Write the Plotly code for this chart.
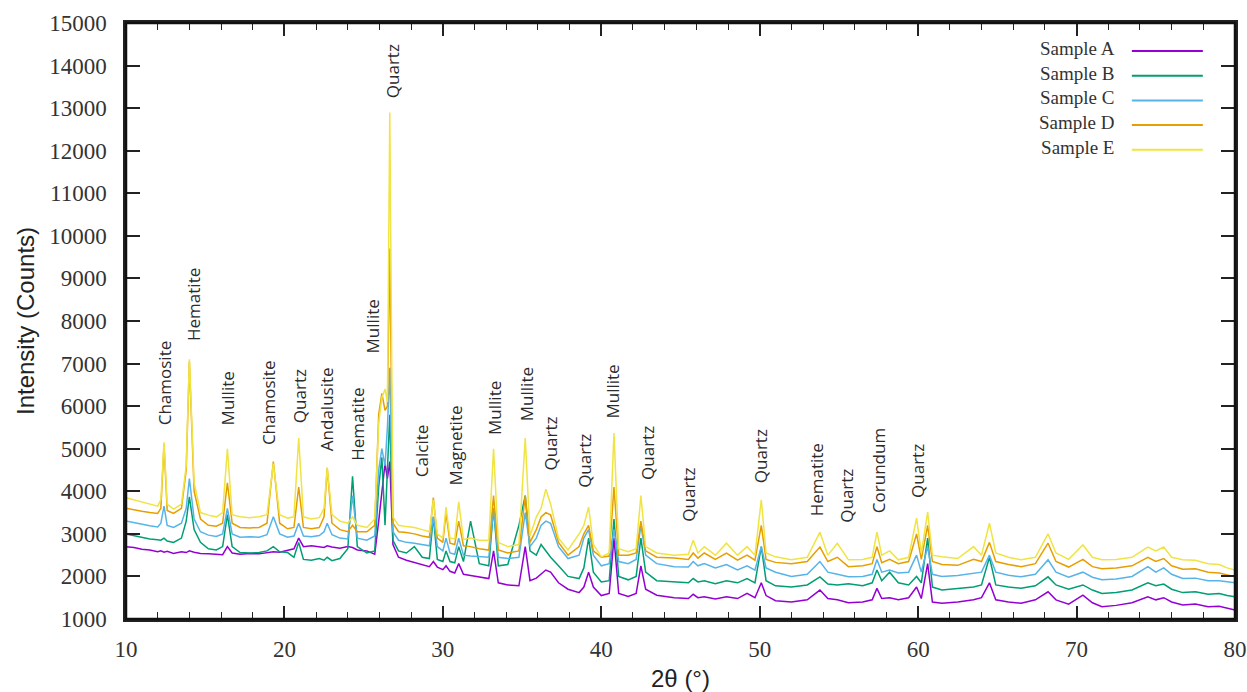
import plotly.graph_objects as go

# 2-theta grid (degrees)
two_theta = [
    10, 10.5, 11, 11.5, 12, 12.2, 12.4, 12.6, 13, 13.5, 13.8, 14.0, 14.3, 14.7, 15.2, 15.7, 16.1, 16.4, 16.7,
    17.2, 17.8, 18.4, 18.9, 19.3, 19.7, 20.2, 20.6, 20.9, 21.2, 21.7, 22.2, 22.5, 22.7, 23.0, 23.5, 24.0, 24.3, 24.6,
    25.2, 25.7, 25.95, 26.15, 26.35, 26.5, 26.65, 26.85, 27.2, 27.7, 28.2, 28.7, 29.15, 29.4, 29.65, 30.0, 30.2, 30.45, 30.75,
    31.0, 31.3, 31.75, 32.3, 32.9, 33.2, 33.5, 34.1, 34.8, 35.2, 35.5, 35.9, 36.2, 36.5, 36.8, 37.3, 37.9, 38.6, 38.9,
    39.2, 39.5, 40.0, 40.5, 40.8, 41.1, 41.7, 42.2, 42.5, 42.8, 43.5, 44.6, 45.5, 45.8, 46.1, 46.5, 47.2, 47.9, 48.6,
    49.2, 49.7, 50.1, 50.4, 51.0, 52.0, 53.0, 53.8, 54.3, 54.9, 55.6, 56.5, 57.1, 57.4, 57.7, 58.2, 58.75, 59.4, 59.9,
    60.2, 60.6, 60.9, 61.5, 62.5, 63.5, 64.0, 64.5, 64.9, 65.7, 66.5, 67.4, 68.2, 68.7, 69.5, 70.4, 71.0, 71.6, 72.5,
    73.5, 74.5, 75.0, 75.5, 76.0, 76.7, 77.5, 78.3, 79.0, 79.5, 80,
]

sample_a = [
    2700, 2680, 2640, 2620, 2580, 2600, 2570, 2590, 2540, 2580, 2560, 2600, 2570, 2540, 2530, 2520, 2510, 2700, 2550,
    2520, 2540, 2530, 2560, 2580, 2570, 2620, 2650, 2900, 2700, 2720, 2700, 2680, 2720, 2690, 2660, 2700, 2680, 2620,
    2600, 2520, 3300, 4000, 4650, 4300, 4700, 2750, 2450, 2380, 2330, 2280, 2230, 2350, 2220, 2160, 2250, 2120, 2080,
    2300, 2050, 2020, 1990, 1950, 2600, 1850, 1800, 1780, 2700, 1900, 1960, 2050, 2150, 2100, 1850, 1700, 1620, 1750,
    2100, 1750, 1550, 1600, 2900, 1600, 1530, 1600, 2250, 1700, 1560, 1500, 1480, 1580, 1500, 1520, 1470, 1520, 1480,
    1600, 1500, 1850, 1550, 1430, 1400, 1450, 1680, 1480, 1450, 1380, 1400, 1450, 1720, 1480, 1500, 1450, 1500, 1750,
    1480, 2300, 1400, 1370, 1400, 1450, 1500, 1850, 1450, 1400, 1370, 1450, 1640, 1450, 1350, 1560, 1380, 1290, 1320,
    1380, 1520, 1450, 1500, 1400, 1330, 1350, 1290, 1300, 1250, 1210,
]

sample_b = [
    3000, 2960, 2930, 2880, 2860, 2850, 2900, 2830, 2800, 2900, 3300, 3870, 3100, 2800, 2650, 2620, 2700, 3450, 2700,
    2560, 2550, 2560, 2600, 2700, 2580, 2560, 2450, 2800, 2400, 2380, 2420, 2380, 2450, 2370, 2420, 2650, 4350, 2700,
    2550, 2600, 4100, 4800, 3200, 4500, 5800, 2850, 2600, 2550, 2700, 2450, 2420, 3400, 2400, 2350, 2600, 2350, 2320,
    2700, 2350, 3300, 2300, 2250, 3600, 2250, 2280, 3200, 3900, 2600, 2500, 2750, 2600, 2450, 2250, 2000, 1950, 2200,
    2900, 2100, 1870, 1900, 3350, 2000, 1920, 2000, 2900, 2100, 1900, 1870, 1850, 1950, 1870, 1900, 1830, 1900, 1850,
    1950, 1850, 2700, 1900, 1780, 1750, 1800, 1990, 1820, 1800, 1830, 1780, 1850, 2150, 1900, 2100, 1850, 1800, 2000,
    1850, 2900, 1750, 1680, 1720, 1750, 1800, 2450, 1800, 1750, 1720, 1780, 1990, 1800, 1700, 1800, 1680, 1600, 1620,
    1680, 1850, 1780, 1820, 1700, 1620, 1640, 1580, 1600, 1550, 1520,
]

sample_c = [
    3300, 3260, 3220, 3190, 3160, 3250, 3650, 3200, 3150, 3250, 3600, 4300, 3350, 3050, 2970, 2940, 3000, 3600, 3000,
    2920, 2930, 2920, 2980, 3400, 3000, 2920, 2950, 3250, 2950, 2930, 2960, 3050, 3250, 2980, 2900, 2880, 3900, 2900,
    2850, 2950, 4500, 5000, 4600, 5500, 6900, 3050, 2850, 2800, 2780, 2750, 2720, 3400, 2700, 2600, 2900, 2550, 2520,
    2900, 2500, 2480, 2460, 2450, 3600, 2450, 2420, 2450, 3500, 2700, 2900, 3200, 3300, 3250, 2700, 2420, 2500, 2900,
    3100, 2500, 2250, 2300, 3100, 2350, 2300, 2400, 3200, 2500, 2300, 2230, 2220, 2350, 2250, 2300, 2200, 2280, 2150,
    2250, 2150, 2700, 2200, 2100, 2000, 2050, 2350, 2100, 2050, 1990, 2000, 2050, 2400, 2100, 2150, 2080, 2100, 2500,
    2100, 2700, 2050, 2000, 2020, 2080, 2100, 2500, 2100, 2030, 1990, 2050, 2390, 2100, 1980, 2100, 1980, 1920, 1940,
    2000, 2230, 2100, 2200, 2050, 1950, 1960, 1900, 1900, 1870, 1850,
]

sample_d = [
    3600, 3560, 3530, 3500, 3480, 3600, 5100, 3550, 3480, 3600, 4500, 7050, 4000, 3350, 3200, 3180, 3250, 4200, 3250,
    3150, 3140, 3150, 3250, 4700, 3250, 3120, 3150, 4100, 3150, 3120, 3150, 3400, 4550, 3250, 3100, 3050, 3200, 3050,
    3050, 3200, 5800, 6300, 5900, 6000, 9700, 3250, 3050, 3030, 3000, 2950, 2920, 3850, 2900, 2800, 3500, 2780, 2750,
    3300, 2720, 2700, 2650, 2620, 3900, 2620, 2550, 2600, 3900, 2800, 3100, 3400, 3500, 3450, 2800, 2500, 2700, 3000,
    3200, 2600, 2450, 2480, 4100, 2500, 2500, 2550, 3300, 2600, 2450, 2430, 2400, 2550, 2430, 2550, 2400, 2550, 2380,
    2500, 2380, 3200, 2400, 2330, 2300, 2350, 2690, 2350, 2450, 2230, 2250, 2300, 2700, 2320, 2400, 2300, 2350, 3000,
    2400, 3200, 2350, 2280, 2260, 2400, 2350, 2800, 2350, 2280, 2230, 2300, 2780, 2350, 2220, 2400, 2230, 2180, 2200,
    2250, 2450, 2350, 2420, 2250, 2170, 2180, 2100, 2080, 2030, 1990,
]

sample_e = [
    3850, 3800, 3750, 3700, 3650, 3800, 5150, 3700, 3580, 3700, 4600, 7100, 4200, 3500, 3440, 3400, 3500, 5000, 3450,
    3400, 3380, 3400, 3450, 4650, 3450, 3370, 3400, 5250, 3400, 3350, 3380, 3600, 4550, 3450, 3300, 3250, 3400, 3200,
    3150, 3350, 5600, 6200, 6400, 6100, 12900, 3400, 3200, 3170, 3150, 3100, 3050, 3800, 3000, 2900, 3630, 2900, 2880,
    3750, 2870, 2900, 2850, 2850, 5000, 2800, 2700, 2750, 5250, 2950, 3400, 3600, 4050, 3700, 2900, 2620, 3000, 3200,
    3630, 2750, 2460, 2550, 5370, 2650, 2580, 2650, 3900, 2700, 2550, 2500, 2520, 2850, 2550, 2700, 2500, 2780, 2500,
    2700, 2500, 3800, 2550, 2460, 2390, 2450, 3040, 2500, 2780, 2390, 2400, 2450, 3040, 2500, 2600, 2390, 2450, 3370,
    2550, 3510, 2500, 2460, 2420, 2700, 2500, 3250, 2550, 2450, 2390, 2450, 3000, 2550, 2400, 2740, 2450, 2390, 2400,
    2450, 2690, 2600, 2690, 2450, 2390, 2380, 2300, 2280, 2200, 2150,
]

series_names = ["Sample A", "Sample B", "Sample C", "Sample D", "Sample E"]
series_values = [sample_a, sample_b, sample_c, sample_d, sample_e]
series_colors = ["#9400d3", "#009e73", "#56b4e9", "#e69f00", "#f0e442"]

# phase labels: text, 2theta position, intensity at the label's lower end
phase_labels = ["Chamosite", "Hematite", "Mullite", "Chamosite", "Quartz", "Andalusite", "Hematite",
                "Mullite", "Quartz", "Calcite", "Magnetite", "Mullite", "Mullite", "Quartz", "Quartz",
                "Mullite", "Quartz", "Quartz", "Quartz", "Hematite", "Quartz", "Corundum", "Quartz"]
phase_x = [12.45, 14.25, 16.4, 19.0, 21.0, 22.7, 24.65, 25.55, 26.8, 28.7, 30.8, 33.3, 35.25,
           36.8, 38.9, 40.7, 42.95, 45.5, 50.1, 53.6, 55.5, 57.5, 60.0]
phase_y = [5510, 7480, 5510, 5040, 5560, 4900, 4660, 7200, 13190, 4280, 4080, 5280, 5600,
           4430, 4030, 5670, 4220, 3250, 4150, 3370, 3210, 3440, 3800]

for v in series_values:
    assert len(v) == len(two_theta)

fig = go.Figure()
for name, vals, col in zip(series_names, series_values, series_colors):
    fig.add_trace(go.Scatter(x=two_theta, y=vals, mode="lines", name=name,
                             line=dict(color=col, width=1.5), showlegend=False))

for t, px, py in zip(phase_labels, phase_x, phase_y):
    fig.add_annotation(x=px, y=py, xref="x", yref="y", text=t, textangle=-90,
                       showarrow=False, xanchor="center", yanchor="bottom",
                       font=dict(family="Open Sans", size=17, color="#2b2b2b"))

# key: names right-aligned, each followed by a short line sample
key_font = 19
pitch = key_font * 1.3 / 596.0
first_row = 0.953
fig.add_annotation(x=0.894, y=first_row + pitch / 2 + 0.004, xref="paper", yref="paper",
                   text="<br>".join(series_names), align="right",
                   showarrow=False, xanchor="right", yanchor="top",
                   font=dict(family="Liberation Serif", size=key_font, color="#333333"))
for i, col in enumerate(series_colors):
    ly = first_row - i * pitch
    fig.add_shape(type="line", xref="paper", yref="paper", x0=0.907, x1=0.971, y0=ly, y1=ly,
                  line=dict(color=col, width=2))

# plot frame
fig.add_shape(type="rect", xref="paper", yref="paper", x0=0, x1=1, y0=0, y1=1,
              line=dict(color="#111111", width=2.5), layer="above")

axis_common = dict(showline=True, linecolor="#222222", linewidth=2.5, mirror="allticks",
                   ticks="inside", tickcolor="#222222", tickwidth=1.5, showgrid=False,
                   zeroline=False, automargin=False,
                   tickfont=dict(family="Liberation Serif", size=23, color="#333333"))

fig.update_xaxes(range=[10, 80], tickvals=[10, 20, 30, 40, 50, 60, 70, 80], ticklen=13,
                 minor=dict(dtick=2, tick0=10, ticks="inside", ticklen=7, tickcolor="#222222",
                            tickwidth=1.2, showgrid=False),
                 title=dict(text="2θ (°)", font=dict(family="Liberation Sans", size=24, color="#222222"),
                            standoff=12),
                 ticklabelstandoff=8, **axis_common)
fig.update_yaxes(range=[1000, 15000], dtick=1000, tick0=1000, ticklen=14, tickformat="d",
                 title=dict(text="Intensity (Counts)", font=dict(family="Liberation Sans", size=24, color="#222222"),
                            standoff=8),
                 ticklabelstandoff=12, **axis_common)

fig.update_layout(width=1247, height=692, margin=dict(l=126, r=12, t=23, b=73, autoexpand=False),
                  plot_bgcolor="white", paper_bgcolor="white")

# remove the default page margin so the figure fills the window exactly
fig.write_html("out.html", config={"displayModeBar": False},
               post_script="document.body.style.margin='0';document.body.style.overflow='hidden';")
